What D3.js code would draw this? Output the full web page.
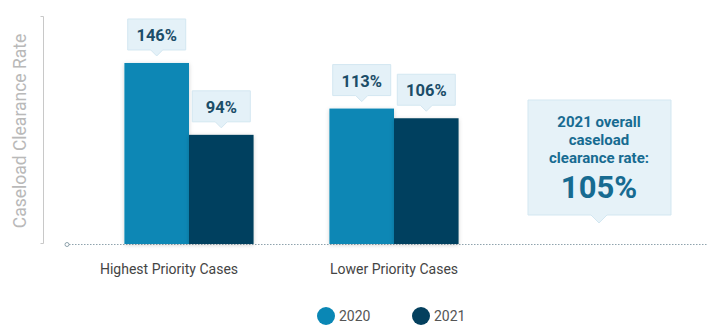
<!DOCTYPE html>
<html>
<head>
<meta charset="utf-8">
<script src="https://cdn.jsdelivr.net/npm/d3@7"></script>
<style>
	body { margin: 0; background: #fff; }
	svg { display: block; font-family: Roboto, "Open Sans", sans-serif; }
</style>
</head>
<body>
<div id="root"></div>
<script>
const categories = ["Highest Priority Cases", "Lower Priority Cases"];
const years = ["2020", "2021"];
const values2020 = [146, 113];
const values2021 = [94, 106];
const overallLines = ["2021 overall", "caseload", "clearance rate:"];
const overallValue = "105%";
const yTitle = "Caseload Clearance Rate";

const colors = {"2020": "#0a87b5", "2021": "#04405e"};

function drawChart() {
	const width = 707;
	const height = 326;
	const baseY = 244;

	const svg = d3.select("#root")
		.append("svg")
		.attr("width", width)
		.attr("height", height);

	const defs = svg.append("defs");
	const shadow = defs.append("filter").attr("id", "shadow")
		.attr("x", "-20%").attr("y", "-20%").attr("width", "140%").attr("height", "140%");
	shadow.append("feDropShadow")
		.attr("dx", 0).attr("dy", 1).attr("stdDeviation", 2)
		.attr("flood-color", "#000").attr("flood-opacity", 0.18);

	// scales (axis starts above zero, the way the original drew it)
	const x0 = d3.scaleBand()
		.domain(categories)
		.range([86.5, 496.5])
		.paddingInner(0.37)
		.paddingOuter(0.185);
	const x1 = d3.scaleBand()
		.domain(years)
		.range([0, x0.bandwidth()]);
	const y = d3.scaleLinear()
		.domain([15, 180])
		.range([baseY, 16]);

	const rows = categories.map((c, i) => ({
		category: c,
		values: [
			{year: "2020", value: values2020[i]},
			{year: "2021", value: values2021[i]}
		]
	}));

	// y axis: plain line with end ticks
	const yAxis = d3.axisLeft(y).tickValues(y.domain()).tickSize(3).tickFormat("");
	const ya = svg.append("g").attr("transform", "translate(43.5,0)").call(yAxis);
	ya.select(".domain").attr("stroke", "#c8c8c8").attr("d", "M-3,16.5H0V243.5H-3");
	ya.selectAll(".tick").remove();

	svg.append("text")
		.attr("transform", "translate(26,131) rotate(-90)")
		.attr("text-anchor", "middle")
		.attr("font-size", 17.5)
		.attr("fill", "#b9b9b9")
		.text(yTitle);

	// dotted baseline
	svg.append("line")
		.attr("x1", 69).attr("x2", width)
		.attr("y1", baseY + 0.5).attr("y2", baseY + 0.5)
		.attr("stroke", "#8fa3ad")
		.attr("stroke-width", 1)
		.attr("stroke-dasharray", "1.5,1.5");
	svg.append("circle")
		.attr("cx", 67).attr("cy", baseY + 0.5).attr("r", 2)
		.attr("fill", "#fff").attr("stroke", "#8fa3ad");

	// bars
	const groups = svg.selectAll(".group")
		.data(rows)
		.enter()
		.append("g")
		.attr("class", "group")
		.attr("transform", d => "translate(" + x0(d.category) + ",0)");

	groups.selectAll("rect")
		.data(d => d.values)
		.enter()
		.append("rect")
		.attr("x", d => x1(d.year))
		.attr("y", d => y(d.value))
		.attr("width", x1.bandwidth())
		.attr("height", d => baseY - y(d.value))
		.attr("fill", d => colors[d.year])
		.attr("filter", "url(#shadow)");

	// callout labels
	const callout = groups.selectAll(".callout")
		.data(d => d.values)
		.enter()
		.append("g")
		.attr("class", "callout")
		.attr("transform", d => "translate(" + (x1(d.year) + x1.bandwidth() / 2) + "," + (y(d.value) - 7) + ")");

	callout.append("path")
		.attr("d", "M-29,-37H29V-6H6L0,0L-6,-6H-29Z")
		.attr("fill", "#e4f1f8")
		.attr("stroke", "#d3e7f1")
		.attr("stroke-width", 1);

	callout.append("text")
		.attr("y", -15)
		.attr("text-anchor", "middle")
		.attr("font-size", 16.5)
		.attr("font-weight", 700)
		.attr("fill", "#1b4d68")
		.text(d => d.value + "%");

	// category labels (the first one sits a little left of its group in the original)
	const labelShift = [-20, 0];
	svg.selectAll(".cat")
		.data(categories)
		.enter()
		.append("text")
		.attr("class", "cat")
		.attr("x", (d, i) => x0(d) + x0.bandwidth() / 2 + labelShift[i])
		.attr("y", 274)
		.attr("text-anchor", "middle")
		.attr("font-size", 14)
		.attr("fill", "#444")
		.text(d => d);

	// overall annotation box, in the slot after the last group
	const last = categories[categories.length - 1];
	const ox = x0(last) + x0.bandwidth() / 2 + x0.step();
	const ann = svg.append("g").attr("transform", "translate(" + ox + "," + (baseY - 21) + ")");
	ann.append("path")
		.attr("d", "M-71,-123H72V-8H8L0,0L-8,-8H-71Z")
		.attr("fill", "#e6f2f8")
		.attr("stroke", "#d3e7f1")
		.attr("stroke-width", 1);
	ann.selectAll(".line")
		.data(overallLines)
		.enter()
		.append("text")
		.attr("class", "line")
		.attr("y", (d, i) => -96 + i * 18)
		.attr("text-anchor", "middle")
		.attr("font-size", 15)
		.attr("font-weight", 700)
		.attr("fill", "#176b91")
		.text(d => d);
	ann.append("text")
		.attr("y", -25)
		.attr("text-anchor", "middle")
		.attr("font-size", 31)
		.attr("font-weight", 700)
		.attr("fill", "#176b91")
		.text(overallValue);

	// legend
	const legendX = [326, 421];
	const legend = svg.selectAll(".legend")
		.data(years)
		.enter()
		.append("g")
		.attr("class", "legend")
		.attr("transform", (d, i) => "translate(" + legendX[i] + ",316)");
	legend.append("circle")
		.attr("r", 9)
		.attr("fill", d => colors[d]);
	legend.append("text")
		.attr("x", 13)
		.attr("y", 5)
		.attr("font-size", 14)
		.attr("fill", "#555")
		.text(d => d);
}

drawChart();
</script>
</body>
</html>
